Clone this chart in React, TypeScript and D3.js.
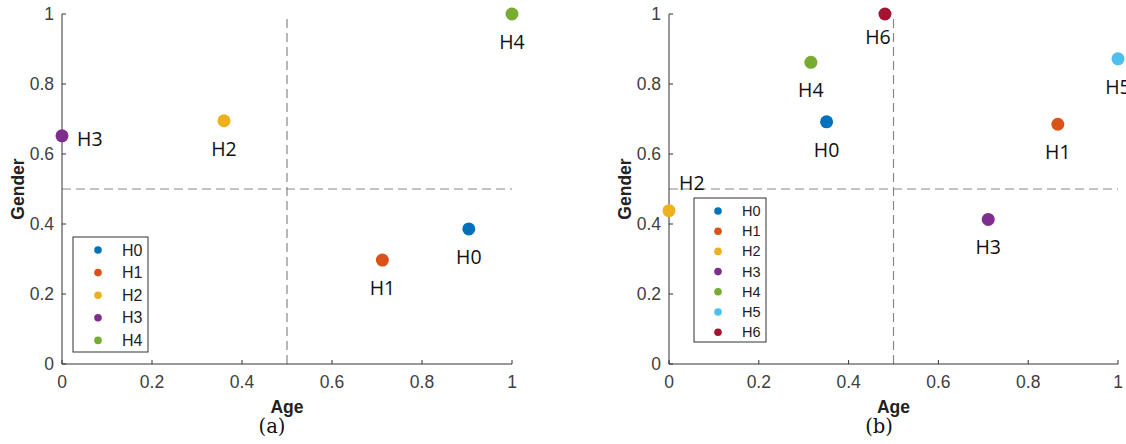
import React from "react";
import * as d3 from "d3";

// ---- data ----
const colors = ["#0072BD", "#D95319", "#EDB120", "#7E2F8E", "#77AC30", "#4DBEEE", "#A2142F"];

const namesA = ["H0", "H1", "H2", "H3", "H4"];
const ageA = [0.904, 0.712, 0.36, 0.0, 1.0];
const genderA = [0.386, 0.297, 0.695, 0.652, 1.0];
const placeA = ["below", "below", "below", "right", "below"];

const namesB = ["H0", "H1", "H2", "H3", "H4", "H5", "H6"];
const ageB = [0.351, 0.866, 0.0, 0.711, 0.316, 1.0, 0.481];
const genderB = [0.692, 0.685, 0.438, 0.413, 0.862, 0.872, 1.0];
const placeB = ["below", "below", "aboveRight", "below", "below", "below", "belowLeft"];

const tickValues = [0, 0.2, 0.4, 0.6, 0.8, 1];
const tickLabels = ["0", "0.2", "0.4", "0.6", "0.8", "1"];
const xTitle = "Age";
const yTitle = "Gender";
const threshold = 0.5;

const AX = "#333333";
const TICK = "#404040";
const SANS = "'Liberation Sans', Arial, sans-serif";
const LABEL_FONT = "'Open Sans', 'Noto Sans', sans-serif";

const offsets: Record<string, { dx: number; dy: number; anchor: string }> = {
  below: { dx: 0, dy: 35, anchor: "middle" },
  right: { dx: 15, dy: 10, anchor: "start" },
  aboveRight: { dx: 10, dy: -21, anchor: "start" },
  belowLeft: { dx: -7, dy: 30, anchor: "middle" },
};

type PanelProps = {
  left: number;
  right: number;
  names: string[];
  ages: number[];
  genders: number[];
  places: string[];
  legend: { x: number; y: number; w: number; h: number; mx: number; tx: number; y0: number; step: number; fs: number };
  genderX: number;
  caption: string;
  captionX: number;
};

function Panel(p: PanelProps) {
  const x = d3.scaleLinear().domain([0, 1]).range([p.left, p.right]);
  const y = d3.scaleLinear().domain([0, 1]).range([364, 14]);
  const [y0, y1] = y.range();
  return (
    <g>
      {/* dashed threshold lines */}
      <line x1={x(threshold)} x2={x(threshold)} y1={y(0)} y2={y(1)} stroke="#888" strokeWidth={1.2} strokeDasharray="9,5" />
      <line x1={x(0)} x2={x(1)} y1={y(threshold)} y2={y(threshold)} stroke="#888" strokeWidth={1.2} strokeDasharray="9,5" />
      {/* axes */}
      <line x1={p.left} x2={p.left} y1={y0} y2={y1} stroke={AX} strokeWidth={1} />
      <line x1={p.left} x2={p.right} y1={y0} y2={y0} stroke={AX} strokeWidth={1} />
      {tickValues.map((t, i) => (
        <g key={"xt" + i}>
          <line x1={x(t)} x2={x(t)} y1={y0} y2={y0 - 4} stroke={AX} />
          <text x={x(t)} y={388} textAnchor="middle" fontFamily={SANS} fontSize={17.5} fill={TICK}>
            {tickLabels[i]}
          </text>
        </g>
      ))}
      {tickValues.map((t, i) => (
        <g key={"yt" + i}>
          <line x1={p.left} x2={p.left + 4} y1={y(t)} y2={y(t)} stroke={AX} />
          <text x={p.left - 8} y={y(t)} dy="0.35em" textAnchor="end" fontFamily={SANS} fontSize={17.5} fill={TICK}>
            {tickLabels[i]}
          </text>
        </g>
      ))}
      <text x={x(0.5)} y={413} textAnchor="middle" fontFamily={SANS} fontWeight="bold" fontSize={17.5} fill="#222">
        {xTitle}
      </text>
      <text
        transform={`translate(${p.genderX},${y(0.5)}) rotate(-90)`}
        textAnchor="middle"
        dy="0.35em"
        fontFamily={SANS}
        fontWeight="bold"
        fontSize={17.5}
        fill="#222"
      >
        {yTitle}
      </text>
      {/* points */}
      {p.names.map((n, i) => {
        const o = offsets[p.places[i]];
        const cx = x(p.ages[i]);
        const cy = y(p.genders[i]);
        return (
          <g key={n}>
            <circle cx={cx} cy={cy} r={6.5} fill={colors[i]} />
            <text x={cx + o.dx} y={cy + o.dy} textAnchor={o.anchor} fontFamily={LABEL_FONT} fontSize={19.5} fill="#111">
              {n}
            </text>
          </g>
        );
      })}
      {/* legend */}
      <rect x={p.legend.x} y={p.legend.y} width={p.legend.w} height={p.legend.h} fill="#fff" stroke={AX} strokeWidth={1} />
      {p.names.map((n, i) => (
        <g key={"lg" + n}>
          <circle cx={p.legend.mx} cy={p.legend.y0 + i * p.legend.step} r={3.8} fill={colors[i]} />
          <text
            x={p.legend.tx}
            y={p.legend.y0 + i * p.legend.step}
            dy="0.35em"
            fontFamily={SANS}
            fontSize={p.legend.fs}
            fill="#222"
          >
            {n}
          </text>
        </g>
      ))}
      <text x={p.captionX} y={433} textAnchor="middle" fontFamily="'DejaVu Serif', 'Liberation Serif', serif" fontSize={19.5} fill="#111">
        {p.caption}
      </text>
    </g>
  );
}

export default function App() {
  return (
    <svg
      width={1126}
      height={444}
      style={{ position: "fixed", left: 0, top: 0, background: "#fff" }}
    >
      <rect width={1126} height={444} fill="#fff" />
      <Panel
        left={62}
        right={512}
        names={namesA}
        ages={ageA}
        genders={genderA}
        places={placeA}
        legend={{ x: 73, y: 237, w: 75, h: 115, mx: 98, tx: 122, y0: 250, step: 22.6, fs: 16 }}
        genderX={18}
        caption="(a)"
        captionX={272}
      />
      <Panel
        left={669}
        right={1118}
        names={namesB}
        ages={ageB}
        genders={genderB}
        places={placeB}
        legend={{ x: 694, y: 198, w: 72, h: 144, mx: 718, tx: 742, y0: 211, step: 20.2, fs: 14.5 }}
        genderX={625}
        caption="(b)"
        captionX={879}
      />
    </svg>
  );
}
